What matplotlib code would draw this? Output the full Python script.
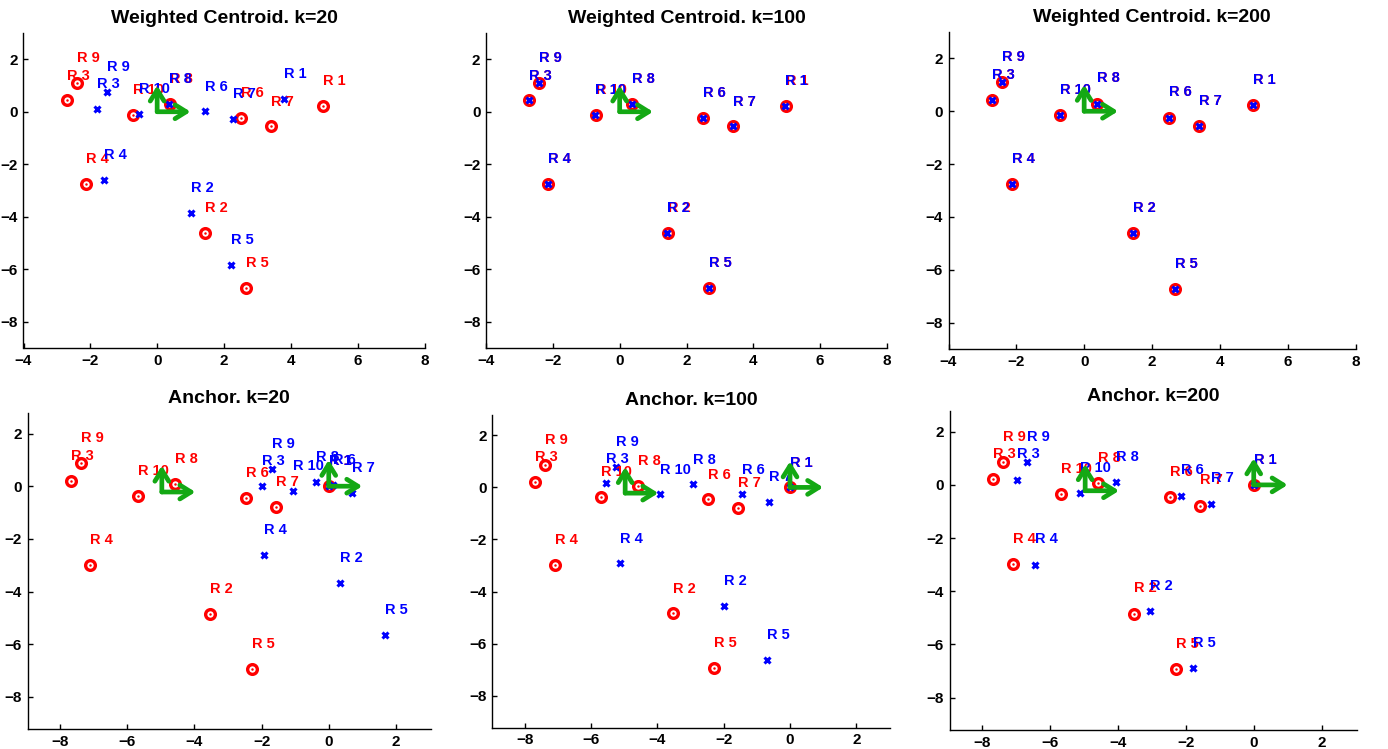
import matplotlib
matplotlib.use("Agg")
import matplotlib.pyplot as plt

plt.rcParams['font.family'] = ['Liberation Sans', 'DejaVu Sans']
plt.rcParams['font.weight'] = 'bold'

labels = ['R 1', 'R 2', 'R 3', 'R 4', 'R 5', 'R 6', 'R 7', 'R 8', 'R 9', 'R 10']

# ---- true positions (red) ----
wc_true_x = [4.97, 1.44, -2.71, -2.13, 2.67, 2.50, 3.40, 0.38, -2.41, -0.72]
wc_true_y = [0.22, -4.62, 0.43, -2.76, -6.72, -0.24, -0.56, 0.29, 1.09, -0.14]

an_true_x = [0.00, -3.53, -7.68, -7.10, -2.30, -2.47, -1.57, -4.59, -7.38, -5.69]
an_true_y = [0.00, -4.84, 0.21, -2.98, -6.94, -0.46, -0.78, 0.07, 0.87, -0.36]

# ---- estimated positions (blue) ----
wc20_est_x = [3.79, 1.00, -1.80, -1.60, 2.21, 1.44, 2.26, 0.35, -1.50, -0.55]
wc20_est_y = [0.49, -3.85, 0.11, -2.61, -5.84, 0.01, -0.27, 0.30, 0.75, -0.10]

wc100_est_x = [4.96, 1.43, -2.72, -2.13, 2.67, 2.49, 3.39, 0.37, -2.42, -0.73]
wc100_est_y = [0.22, -4.62, 0.43, -2.76, -6.72, -0.24, -0.56, 0.29, 1.08, -0.14]

wc200_est_x = [4.97, 1.44, -2.71, -2.13, 2.67, 2.50, 3.40, 0.38, -2.41, -0.72]
wc200_est_y = [0.22, -4.62, 0.43, -2.76, -6.72, -0.24, -0.56, 0.29, 1.09, -0.14]

an20_est_x = [0.00, 0.34, -1.98, -1.93, 1.68, 0.12, 0.69, -0.37, -1.69, -1.07]
an20_est_y = [0.00, -3.68, 0.01, -2.62, -5.66, 0.03, -0.24, 0.15, 0.66, -0.19]

an100_est_x = [0.00, -2.00, -5.54, -5.12, -0.70, -1.44, -0.63, -2.93, -5.24, -3.92]
an100_est_y = [0.00, -4.54, 0.15, -2.92, -6.62, -0.27, -0.56, 0.12, 0.79, -0.27]

an200_est_x = [0.00, -3.06, -6.99, -6.46, -1.80, -2.15, -1.27, -4.07, -6.69, -5.12]
an200_est_y = [0.00, -4.75, 0.20, -3.00, -6.88, -0.40, -0.70, 0.10, 0.86, -0.30]

# ---- coordinate frames drawn as green arrows ----
wc_frames_x = [0.0]
wc_frames_y = [0.0]
an_frames_x = [0.0, -4.97]
an_frames_y = [0.0, -0.22]

titles = ['Weighted Centroid. k=20', 'Weighted Centroid. k=100', 'Weighted Centroid. k=200',
          'Anchor. k=20', 'Anchor. k=100', 'Anchor. k=200']

wc_xlim = (-4, 8)
wc_ylim = (-9, 3)
an_xlim = (-8.97, 3.03)
an_ylim = (-9.22, 2.78)
wc_xticks = [-4, -2, 0, 2, 4, 6, 8]
an_xticks = [-8, -6, -4, -2, 0, 2]
yticks = [-8, -6, -4, -2, 0, 2]

W, H = 1388, 749
fig = plt.figure(figsize=(W / 100, H / 100), dpi=100)

# pixel boxes: left, right, top, bottom
boxes = [
    (23.5, 424.5, 33, 348),
    (486, 887, 33, 348),
    (948.5, 1355.5, 32, 349),
    (27.5, 430.5, 413, 729),
    (492.5, 890.5, 415, 727.5),
    (949.5, 1356.5, 411, 730),
]

panels = [
    (wc_true_x, wc_true_y, wc20_est_x, wc20_est_y, wc_frames_x, wc_frames_y, wc_xlim, wc_ylim, wc_xticks),
    (wc_true_x, wc_true_y, wc100_est_x, wc100_est_y, wc_frames_x, wc_frames_y, wc_xlim, wc_ylim, wc_xticks),
    (wc_true_x, wc_true_y, wc200_est_x, wc200_est_y, wc_frames_x, wc_frames_y, wc_xlim, wc_ylim, wc_xticks),
    (an_true_x, an_true_y, an20_est_x, an20_est_y, an_frames_x, an_frames_y, an_xlim, an_ylim, an_xticks),
    (an_true_x, an_true_y, an100_est_x, an100_est_y, an_frames_x, an_frames_y, an_xlim, an_ylim, an_xticks),
    (an_true_x, an_true_y, an200_est_x, an200_est_y, an_frames_x, an_frames_y, an_xlim, an_ylim, an_xticks),
]

green = '#14a814'
label_dy = 0.95

for box, title, p in zip(boxes, titles, panels):
    l, r, t, b = box
    ax = fig.add_axes([l / W, 1 - b / H, (r - l) / W, (b - t) / H])
    tx, ty, ex, ey, fx, fy, xlim, ylim, xticks = p

    ax.plot(tx, ty, 'o', ls='none', ms=7, mfc='white', mec='red', mew=2.4, zorder=3)
    ax.plot(tx, ty, 'o', ls='none', ms=1.8, mfc='red', mec='red', mew=0, zorder=3)
    ax.plot(ex, ey, 'x', ls='none', ms=4.5, color='blue', mew=2.2, zorder=4)

    for x, y, s in zip(tx, ty, labels):
        ax.text(x, y + label_dy, s, color='red', fontsize=10.5, fontweight='bold',
                ha='left', va='center', zorder=5)
    for x, y, s in zip(ex, ey, labels):
        ax.text(x, y + label_dy, s, color='blue', fontsize=10.5, fontweight='bold',
                ha='left', va='center', zorder=6)

    for ox, oy in zip(fx, fy):
        for dx, dy in ((1, 0), (0, 1)):
            ax.annotate('', xy=(ox + dx, oy + dy), xytext=(ox, oy),
                        arrowprops=dict(arrowstyle='->,head_length=0.8,head_width=0.5',
                                        lw=3.4, color=green, shrinkA=0, shrinkB=0),
                        zorder=10)

    ax.set_xlim(*xlim)
    ax.set_ylim(*ylim)
    ax.set_xticks(xticks)
    ax.set_yticks(yticks)
    ax.spines['top'].set_visible(False)
    ax.spines['right'].set_visible(False)
    for sp in ('left', 'bottom'):
        ax.spines[sp].set_linewidth(1.0)
    ax.tick_params(direction='in', length=3.5, width=1.0, labelsize=11, pad=4)
    for lab in ax.get_xticklabels() + ax.get_yticklabels():
        lab.set_fontweight('bold')
    ax.set_title(title, fontsize=14, fontweight='bold', pad=7)

fig.savefig('out.png', dpi=100)
